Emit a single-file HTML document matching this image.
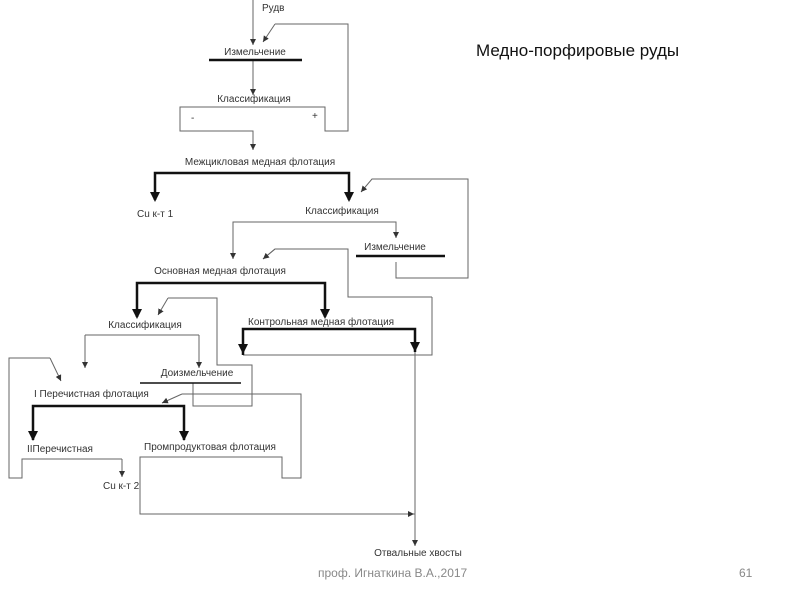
<!DOCTYPE html>
<html><head><meta charset="utf-8"><style>
html,body{margin:0;padding:0;background:#fff;}
svg{display:block;}
text{font-family:"Liberation Sans",sans-serif;font-size:10px;fill:#333;}
</style></head><body>
<svg width="800" height="600" viewBox="0 0 800 600" xmlns="http://www.w3.org/2000/svg">
<defs>
<marker id="a" markerWidth="8" markerHeight="8" refX="6" refY="3" orient="auto" markerUnits="userSpaceOnUse"><path d="M0,0 L6,3 L0,6 z" fill="#333"/></marker>
</defs>
<g fill="none" stroke="#666" stroke-width="1">
<line x1="253" y1="0" x2="253" y2="45" marker-end="url(#a)"/>
<polyline points="275,24 348,24 348,131 325,131 325,107 180,107 180,131 253,131 253,150" marker-end="url(#a)"/>
<line x1="275" y1="24" x2="263" y2="42" marker-end="url(#a)"/>
<line x1="253" y1="60" x2="253" y2="95" marker-end="url(#a)"/>
<polyline points="233,258 233,222 396,222 396,238" marker-end="url(#a)"/>
<line x1="233" y1="222" x2="233" y2="259" marker-end="url(#a)"/>
<polyline points="396,262 396,278 468,278 468,179 372,179 361,192" marker-end="url(#a)"/>
<polyline points="432,297 432,355 243,355"/>
<polyline points="263,259 275,249 348,249 348,297 432,297" />
<line x1="275" y1="249" x2="263" y2="259" marker-end="url(#a)"/>
<line x1="85" y1="335" x2="199" y2="335"/>
<line x1="85" y1="335" x2="85" y2="368" marker-end="url(#a)"/>
<line x1="199" y1="335" x2="199" y2="368" marker-end="url(#a)"/>
<polyline points="193,383 193,406 252,406 252,365 217,365 217,298 168,298"/>
<line x1="168" y1="298" x2="158" y2="315" marker-end="url(#a)"/>
<polyline points="122,459 22,459 22,478 9,478 9,358 50,358"/>
<line x1="50" y1="358" x2="61" y2="381" marker-end="url(#a)"/>
<line x1="122" y1="459" x2="122" y2="477" marker-end="url(#a)"/>
<polyline points="415,514 140,514 140,457 282,457 282,478 301,478 301,394 182,394"/>
<line x1="182" y1="394" x2="162" y2="403" marker-end="url(#a)"/>
<line x1="140" y1="514" x2="414" y2="514" marker-end="url(#a)"/>
<line x1="415" y1="329" x2="415" y2="546" marker-end="url(#a)"/>
</g>
<g fill="none" stroke="#111" stroke-width="2.5">
<line x1="209" y1="60" x2="302" y2="60"/>
<line x1="356" y1="256" x2="445" y2="256"/>
<line x1="140" y1="383" x2="241" y2="383" stroke-width="1.5"/>
<polyline points="155,200 155,173 349,173 349,200"/>
<polyline points="137,317 137,283 325,283 325,317"/>
<polyline points="243,355 243,329 415,329 415,352"/>
<polyline points="33,440 33,406 184,406 184,440"/>
</g>
<g fill="#111">
<path d="M150,192 L160,192 L155,202z"/><path d="M344,192 L354,192 L349,202z"/>
<path d="M132,309 L142,309 L137,319z"/><path d="M320,309 L330,309 L325,319z"/>
<path d="M238,344 L248,344 L243,354z"/><path d="M410,342 L420,342 L415,352z"/>
<path d="M28,431 L38,431 L33,441z"/><path d="M179,431 L189,431 L184,441z"/>
</g>
<text x="262" y="11">Рудв</text>
<text x="255" y="55" text-anchor="middle">Измельчение</text>
<text x="254" y="102" text-anchor="middle">Классификация</text>
<text x="191" y="121">-</text>
<text x="312" y="119">+</text>
<text x="260" y="165" text-anchor="middle">Межцикловая медная флотация</text>
<text x="137" y="217">Cu к-т 1</text>
<text x="342" y="214" text-anchor="middle">Классификация</text>
<text x="395" y="250" text-anchor="middle">Измельчение</text>
<text x="220" y="274" text-anchor="middle">Основная медная флотация</text>
<text x="145" y="328" text-anchor="middle">Классификация</text>
<text x="248" y="325">Контрольная медная флотация</text>
<text x="197" y="376" text-anchor="middle">Доизмельчение</text>
<text x="34" y="397">I Перечистная флотация</text>
<text x="27" y="452">IIПеречистная</text>
<text x="144" y="450">Промпродуктовая флотация</text>
<text x="103" y="489">Cu к-т 2</text>
<text x="418" y="556" text-anchor="middle">Отвальные хвосты</text>
<text x="476" y="56" style="font-size:17px;fill:#111">Медно-порфировые руды</text>
<text x="318" y="577" style="font-size:12px;fill:#888">проф. Игнаткина В.А.,2017</text>
<text x="739" y="577" style="font-size:12px;fill:#888">61</text>
</svg>
</body></html>
